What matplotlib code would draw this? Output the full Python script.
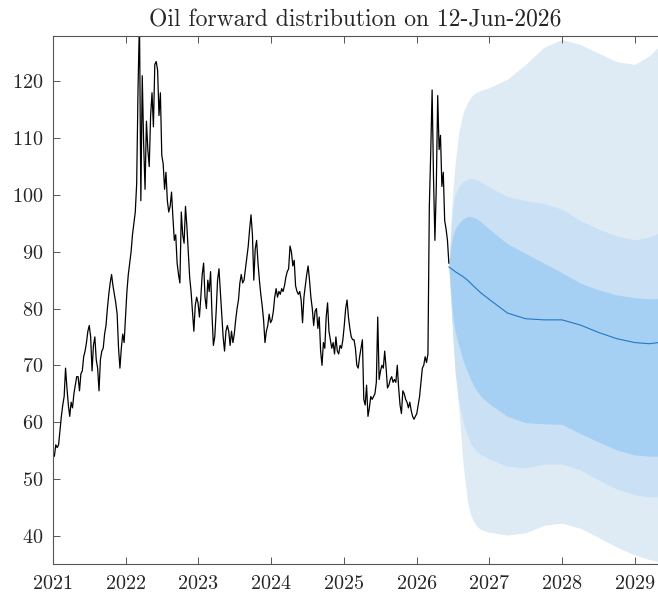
import numpy as np
import pandas as pd
import matplotlib
matplotlib.use('Agg')
import matplotlib.pyplot as plt

plt.rcParams['font.family'] = 'serif'
plt.rcParams['font.serif'] = ['cmr10']
plt.rcParams['mathtext.fontset'] = 'cm'
plt.rcParams['axes.formatter.use_mathtext'] = True

# weekly closes (Fridays) up to the forecast date
preco_2021 = [54, 56, 55.5, 56, 58.5, 61, 63, 64.5, 69.5, 66, 63, 61,
              63.5, 62.5, 65, 66.5, 68, 68, 65.5, 68.5, 69, 71.5, 72.5, 74,
              76, 77, 75, 69, 73.5, 75, 71, 69.5, 65.5, 71, 72.5, 73,
              75.5, 77, 80, 82.5, 84.5, 86, 84, 82.5, 81, 79, 73, 69.5,
              73, 75.5, 74, 78.5]
preco_2022 = [83, 86, 88, 90, 93, 95, 97, 102, 119, 131, 99, 121,
              109, 101, 113, 108, 105, 114, 118, 112, 123, 123.5, 122, 114,
              118, 107, 105.5, 101, 104, 99, 97, 98, 100.5, 96, 92, 93,
              88, 86, 84.5, 97, 93, 91.5, 98, 94.5, 90, 85.5, 83, 79.5,
              76, 80.5, 82, 81]
preco_2023 = [78.5, 82, 86, 88, 82, 80, 85, 83, 86.5, 79, 73.5, 75,
              79.5, 85, 87, 83, 79, 75, 72.5, 76, 77, 76, 73.5, 76,
              74, 75.5, 78, 80, 81.5, 84.5, 86, 84.5, 85, 87, 89, 91,
              94, 96.5, 93, 85, 90.5, 92, 88, 85, 82.5, 80.5, 78, 74,
              76, 77, 79, 77.5]
preco_2024 = [78, 79.5, 82, 83.5, 82, 83, 82.5, 83.5, 83, 84, 85.5, 86.5,
              87, 91, 90, 87.5, 88.5, 84, 83, 82.5, 83, 81.5, 77.5, 82,
              84, 86, 87.5, 85, 82, 80, 77, 79.5, 80, 76.5, 78.5, 72.5,
              70, 74, 73, 78.5, 81, 76, 74.5, 73, 74, 72, 75, 72.5,
              72, 73.5, 73, 74.5]
preco_2025 = [77, 80, 81.5, 78.5, 76.5, 75, 74.5, 74.5, 73, 70, 69.5, 71.5,
              73, 74.5, 64, 63, 66.5, 61, 62.5, 64.5, 64, 64.5, 65, 67,
              78.5, 67.5, 69, 70, 69.5, 72.5, 69.5, 66, 66.5, 67.5, 68, 67,
              67.5, 67, 70, 66, 63, 61.5, 65.5, 65, 64, 63.5, 62.5, 63.5,
              62, 61, 60.5, 61]
preco_2026 = [61.5, 63, 64.5, 67, 69.5, 70, 71.5, 70.5, 72, 98, 107.5, 118.5,
              103, 92, 101.5, 117.5, 108, 110.5, 101.5, 104, 95.5, 94, 92, 88]

data_ref = '2026-06-12'

# forecast horizon (decimal years) and quantile bands
horizonte = [2026.445, 2026.47, 2026.50, 2026.53, 2026.58, 2026.64, 2026.70,
             2026.74, 2026.78, 2026.83, 2026.88, 2027.00, 2027.25, 2027.50,
             2027.75, 2028.00, 2028.25, 2028.50, 2028.75, 2029.00, 2029.20, 2029.40]
mediana = [87.3, 87.1, 86.8, 86.5, 86.1, 85.6, 85.0, 84.5, 84.0, 83.4,
           82.8, 81.6, 79.2, 78.2, 78.0, 78.0, 77.1, 75.8, 74.7, 74.0, 73.8, 74.1]
faixa_int_sup = [87.5, 90.8, 92.8, 94.0, 95.0, 95.8, 96.2, 96.2, 96.1, 95.8,
                 95.3, 94.0, 91.4, 89.7, 88.0, 86.3, 84.5, 83.3, 82.4, 81.9, 81.7, 81.8]
faixa_int_inf = [87.3, 83.0, 78.5, 76.0, 73.5, 70.8, 68.8, 67.6, 66.5, 65.5,
                 64.6, 63.2, 61.0, 59.9, 59.7, 59.6, 58.0, 56.5, 55.1, 54.2, 54.0, 54.0]
faixa_med_sup = [87.5, 93.0, 98.0, 100.0, 101.5, 102.3, 102.8, 102.9, 102.9, 102.6,
                 102.3, 101.4, 99.7, 99.0, 98.5, 97.5, 95.5, 94.0, 92.8, 92.1, 92.6, 93.7]
faixa_med_inf = [87.3, 81.0, 74.5, 68.6, 63.5, 60.0, 57.6, 56.4, 55.5, 54.8,
                 54.3, 53.5, 52.2, 51.9, 52.6, 52.6, 51.6, 49.8, 48.2, 47.2, 46.8, 46.9]
faixa_ext_sup = [87.5, 95.0, 101.0, 105.5, 111.0, 114.5, 116.3, 117.1, 117.7, 118.1,
                 118.4, 118.9, 120.4, 123.0, 126.0, 127.4, 126.5, 125.0, 123.5, 123.0, 124.5, 127.0]
faixa_ext_inf = [87.3, 82.0, 76.0, 70.5, 62.5, 52.5, 46.0, 43.8, 42.6, 41.6,
                 41.1, 40.6, 40.1, 40.5, 41.8, 42.2, 41.3, 39.7, 38.0, 36.6, 35.8, 35.2]

anos_ticks = list(range(2021, 2030))

precos = preco_2021 + preco_2022 + preco_2023 + preco_2024 + preco_2025 + preco_2026
datas = pd.date_range(end=data_ref, periods=len(precos), freq='7D')
t_hist = datas.year + (datas.dayofyear - 1) / np.where(datas.is_leap_year, 366, 365)

fig = plt.figure(figsize=(6.58, 5.92), dpi=100)
ax = fig.add_axes([53 / 658, 28 / 592, 605 / 658, 528 / 592])

cor_txt = '#262626'
ax.fill_between(horizonte, faixa_ext_inf, faixa_ext_sup, color='#deebf5', lw=0)
ax.fill_between(horizonte, faixa_med_inf, faixa_med_sup, color='#cae1f5', lw=0)
ax.fill_between(horizonte, faixa_int_inf, faixa_int_sup, color='#a6d0f3', lw=0)
ax.plot(horizonte, mediana, color='#1f78c8', lw=0.8)
ax.plot(t_hist, precos, color='black', lw=0.9)

ax.set_xlim(2021, 2029.32)
ax.set_ylim(35, 128)
ax.set_xticks(anos_ticks)
ax.set_xticklabels([str(a) for a in anos_ticks])
ax.set_yticks(range(40, 121, 10))

ax.spines['right'].set_visible(False)
for s in ['left', 'bottom', 'top']:
    ax.spines[s].set_color('#555555')
    ax.spines[s].set_linewidth(0.8)
ax.tick_params(direction='in', length=5, width=0.7, colors='#555555',
               labelcolor=cor_txt, labelsize=14.5, top=True, right=False)
ax.tick_params(axis='y', pad=7)
ax.tick_params(axis='x', pad=8)

ax.set_title('Oil forward distribution on 12-Jun-2026', fontsize=17, color=cor_txt, pad=7)

fig.savefig('out.png', dpi=100)
